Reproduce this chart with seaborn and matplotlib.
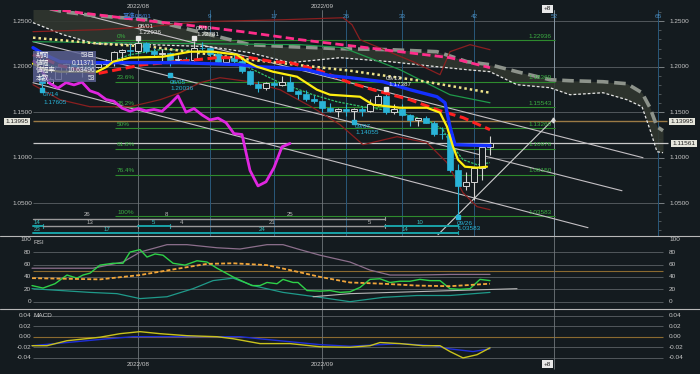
import numpy as np
import matplotlib
matplotlib.use("Agg")
import matplotlib.pyplot as plt
import matplotlib.transforms as mtransforms
from matplotlib.patches import Rectangle
from matplotlib.lines import Line2D
import seaborn as sns

# ---------------- candles (daily) ----------------
dates = ["07/14","07/15","07/18","07/19","07/20","07/21","07/22","07/25","07/26","07/27",
         "07/28","07/29","08/01","08/02","08/03","08/04","08/05","08/08","08/09","08/10",
         "08/11","08/12","08/15","08/16","08/17","08/18","08/19","08/22","08/23","08/24",
         "08/25","08/26","08/29","08/30","08/31","09/01","09/02","09/05","09/06","09/07",
         "09/08","09/09","09/12","09/13","09/14","09/15","09/16","09/19","09/20","09/21",
         "09/22","09/23","09/26","09/27","09/28","09/29","09/30"]
opens = [1.1890,1.1825,1.1868,1.1993,1.2029,1.1972,1.2000,1.1997,1.2035,1.2040,
         1.2165,1.2180,1.2170,1.2262,1.2170,1.2135,1.2150,1.2075,1.2080,1.2075,
         1.2210,1.2205,1.2135,1.2055,1.2100,1.2060,1.1950,1.1815,1.1765,1.1825,
         1.1800,1.1830,1.1735,1.1705,1.1640,1.1620,1.1545,1.1510,1.1540,1.1515,
         1.1530,1.1510,1.1590,1.1680,1.1500,1.1540,1.1470,1.1415,1.1435,1.1385,
         1.1265,1.1255,1.0860,1.0690,1.0735,1.0890,1.1120]
highs = [1.1906,1.1890,1.2033,1.2036,1.2046,1.2028,1.2064,1.2063,1.2080,1.2178,
         1.2190,1.2245,1.22936,1.2275,1.2210,1.2195,1.2165,1.2124,1.2110,1.22781,
         1.2275,1.2210,1.2140,1.2115,1.2147,1.2085,1.1960,1.1840,1.1830,1.1840,
         1.1900,1.1900,1.1745,1.1740,1.1690,1.1625,1.1600,1.1550,1.1590,1.1550,
         1.1560,1.1647,1.1700,1.17387,1.1590,1.1590,1.1480,1.1440,1.1460,1.1400,
         1.1340,1.1275,1.0930,1.0840,1.0900,1.1130,1.1235]
lows = [1.17605,1.1806,1.1860,1.1925,1.1950,1.1890,1.1961,1.1990,1.2010,1.2010,
        1.2064,1.2120,1.2150,1.2150,1.2120,1.2065,1.20036,1.2055,1.2053,1.2060,
        1.2180,1.2110,1.2030,1.2045,1.2040,1.1930,1.1795,1.1717,1.1740,1.1775,
        1.1790,1.1730,1.1650,1.1620,1.1600,1.1498,1.1500,1.1445,1.1455,1.14055,
        1.1460,1.1505,1.1570,1.1475,1.1475,1.1460,1.1351,1.1350,1.1380,1.1235,
        1.1210,1.0840,1.03583,1.0650,1.0540,1.0760,1.1025]
closes = [1.1825,1.1868,1.1993,1.2029,1.1972,1.2000,1.1997,1.2035,1.2040,1.2165,
          1.2180,1.2170,1.2262,1.2170,1.2135,1.2150,1.2075,1.2080,1.2075,1.2210,
          1.2205,1.2135,1.2055,1.2100,1.2060,1.1950,1.1815,1.1765,1.1825,1.1800,
          1.1830,1.1735,1.1705,1.1640,1.1620,1.1545,1.1510,1.1540,1.1515,1.1530,
          1.1510,1.1590,1.1680,1.1500,1.1540,1.1470,1.1415,1.1435,1.1385,1.1265,
          1.1255,1.0860,1.0690,1.0735,1.0890,1.1120,1.11561]
lag_shift = 25

# ---------------- indicator lines (bar index, price) ----------------
tenkan_x = [-1.125,0.375,2.25,6.875,8.125,8.875,11,15.125,18.5,21.375,24.375,25.625,26.875,28.875,
            31.875,34.375,36,39.75,41.375,44.75,48.125,49.75,50.625,51.375,52,52.875,54.375,55.625]
tenkan_y = [1.2033,1.1967,1.1945,1.1945,1.2000,1.2055,1.2099,1.2110,1.2165,1.2165,1.2132,1.2055,1.2000,
            1.1945,1.1890,1.1747,1.1692,1.1670,1.1582,1.1549,1.1549,1.1495,1.1341,1.1121,1.0978,1.0901,
            1.0890,1.0901]
kijun_x = [-1.125,0.375,2.25,7.25,17.25,24.75,26.875,29.75,33.125,36,38.5,42.625,46,49.375,50.375,51,51.625,56]
kijun_y = [1.2209,1.2132,1.2055,1.2044,1.2044,1.2022,1.2000,1.1989,1.1967,1.1901,1.1879,1.1835,1.1747,
           1.1670,1.1604,1.1341,1.1143,1.1132]
ma_red_x = [-1.125,-0.25,2.25,6.875,9.375,12.625,16.875,21.875,26,28.875,31,34.375,38.5,41.375,46,49.75,52.625,56]
ma_red_y = [1.2132,1.2110,1.2011,1.1923,1.1967,1.2022,1.2055,1.2099,1.2099,1.2055,1.2044,1.1967,1.1824,
            1.1747,1.1637,1.1516,1.1440,1.1308]
ma_pink_x = [1,4.75,11,21,26,32.25,38.5,44.75,51,56]
ma_pink_y = [1.2637,1.2593,1.2527,1.2429,1.2374,1.2297,1.2231,1.2165,1.2099,1.1989]
ma_dot_x = [-1.125,7.25,13.5,26,38.5,47.25,56]
ma_dot_y = [1.2319,1.2253,1.2220,1.2077,1.1956,1.1846,1.1714]
cloud_x = [-1.125,2.625,6.625,13.5,21,26,31,37.25,43.5,49.375,53.125,56,59.375,63.5,66,70.125,
           73.125,75,76,76.875,77.625]
span_b = [1.2681,1.2604,1.2560,1.2516,1.2352,1.2242,1.2220,1.2198,1.2187,1.2165,1.2055,1.2022,1.1945,
          1.1857,1.1846,1.1835,1.1813,1.1714,1.1549,1.1341,1.1297]
span_a = [1.2484,1.2352,1.2253,1.2242,1.2220,1.2154,1.2044,1.2099,1.2055,1.2000,1.1967,1.1945,1.1802,
          1.1769,1.1692,1.1714,1.1637,1.1560,1.1308,1.1066,1.1055]
bb_up_x = [-1.125,7.25,13.5,19.75,30.125,37.625,38.75,39.75,46.375,49.75,51,53.5,56]
bb_up_y = [1.2385,1.2407,1.2440,1.2495,1.2516,1.2538,1.2462,1.2297,1.2055,1.1912,1.2165,1.2242,1.2187]
bb_lo_x = [-1.125,2.25,6,11,14.75,17.25,19.75,22.25,26,29.75,33.875,37.25,40.125,44.375,48.125,50.625,
           52.625,54.375,56]
bb_lo_y = [1.1802,1.1637,1.1560,1.1560,1.1637,1.1714,1.1824,1.1879,1.1835,1.1747,1.1549,1.1363,1.1143,
           1.1231,1.1165,1.0945,1.0615,1.0462,1.0429]
ma_gd_x = [-1.125,2.25,7.25,11,14.75,17.25,21.375,25.625,29.75,33.875,36.875,40.125,44.375,48.5,50.125,
           51,52.625,54.375,56]
ma_gd_y = [1.2055,1.1989,1.2011,1.2132,1.2187,1.2187,1.2165,1.2000,1.1824,1.1692,1.1615,1.1560,1.1505,
           1.1396,1.1308,1.1165,1.0978,1.0923,1.0945]
ma_gs_x = [-1.125,19.75,32.25,37.625,44.75,51,56]
ma_gs_y = [1.2275,1.2253,1.2242,1.2209,1.1967,1.1692,1.1604]

# trend lines (start/end bar index and price)
trend_x0 = [-1.125, -1.125, -1.125]
trend_y0 = [1.1824, 1.2275, 1.2714]
trend_x1 = [68.25, 72.5, 75.125]
trend_y1 = [1.0231, 1.0637, 1.1000]
gann_x = [49.5, 63.875]
gann_y = [1.0154, 1.1418]

# fibonacci retracement
fib_labels = ["0%", "23.6%", "38.2%", "50%", "61.8%", "76.4%", "100%"]
fib_prices = [1.22936, 1.18369, 1.15543, 1.13260, 1.10976, 1.08150, 1.03583]
price_ticks = [1.25, 1.20, 1.15, 1.10, 1.05]
price_tick_labels = ["1.2500", "1.2000", "1.1500", "1.1000", "1.0500"]
level_orange = 1.13995
level_last = 1.11561
cycle_numbers = [9, 17, 26, 33, 42, 52, 65]
cycle_origin = 12

# info box
info_l = ["期間", "値幅", "値幅率", "本数"]
info_r = ["53日", "0.11371", "10.63496", "53"]

# ---------------- RSI panel ----------------
rsi_x = [-1.25,0.125,1.625,3.125,4.375,5.125,6,7.25,8.875,10.125,11,12.25,13.125,14.125,15.125,16.375,
         17.875,19.375,20.625,21.875,23.875,26.25,27.25,28.125,29.375,30.125,31.375,32,33.125,34.75,36,
         37.25,38.5,39.75,41,42.25,43.5,44.75,46,47.25,48.5,49.75,51,52.25,53.5,54.75,56]
rsi_y = [26,22,29,43,38,43,46,59,62,62,80,84,72,77,75,62,59,66,64,54,40,26,26,31,29,36,31,31,
         18,17,18,15,16,23,36,37,31,33,33,36,34,34,21,20,21,36,34]
rsi_long_x = [-1.25,3,7.25,12.25,16.375,20.625,23.875,28.125,31,34.75,38.5,42.625,46.875,51,56]
rsi_long_y = [38,37,36,43,52,61,62,59,51,40,31,29,26,25,29]
rsi_hi_x = [-1.25,6.375,10.125,12.25,15.625,18.125,21.875,24.75,28.125,30.125,32.25,34.75,38.5,41,43.5,
            46.875,51,56]
rsi_hi_y = [54,54,64,80,92,92,87,85,92,92,84,75,64,51,43,43,44,44]
rsi_lo_x = [-1.25,6,9.375,12.25,15.625,18.875,21.375,23.875,26.375,30.125,34.75,38.5,42.625,46.875,51,56]
rsi_lo_y = [21,15,13,5,8,21,34,38,26,15,7,0,7,10,10,15]
rsi_gr_x = [33.875, 38.5, 59.375]
rsi_gr_y = [8, 13, 21]
rsi_ticks = [100, 80, 60, 40, 20, 0]

# ---------------- MACD panel ----------------
macd_x = [-1.25,0.625,3.125,7.25,9.75,12.25,14.75,18.125,21.875,23.875,27.25,31,34.75,38.5,41,42.25,
          44.75,47.625,49.75,51,52.625,54.375,56]
macd_y = [-0.017,-0.017,-0.0076,-0.001,0.0057,0.0095,0.0057,0.0019,0.0,-0.0038,-0.013,-0.013,-0.019,
          -0.020,-0.017,-0.011,-0.013,-0.017,-0.017,-0.028,-0.040,-0.034,-0.021]
signal_x = [-1.25,3.125,8.125,11.375,15.625,21.875,24.75,27.25,31,34.75,38.5,44.75,48.875,51,53.875,56]
signal_y = [-0.017,-0.011,-0.004,0.0,0.0,0.0,0.0,-0.004,-0.0095,-0.015,-0.018,-0.013,-0.017,-0.023,
            -0.028,-0.023]
macd_ticks = [0.04, 0.02, 0.00, -0.02, -0.04]
macd_tick_labels = ["0.04", "0.02", "0.00", "-0.02", "-0.04"]
month_labels = ["2022/08", "2022/09"]
month_index = [12, 35]

# ---------------- style ----------------
BG = "#141b1f"
sns.set_theme(style="dark", rc={"axes.facecolor": BG, "figure.facecolor": BG,
                                "savefig.facecolor": BG})
plt.rcParams["font.family"] = ["Liberation Sans", "Noto Sans CJK JP", "DejaVu Sans"]
TXT = "#c8c8c8"
GRID = "#5b6165"
CYAN = "#2ab4d8"
TEAL = "#1aa3a8"
FS = 4.6

W, H = 700, 374
fig = plt.figure(figsize=(7, 3.74), dpi=100)


def fx(x):
    return x / W


def fy(y):
    return 1 - y / H


def ix(xp):
    return (xp - 42) / 8.0


ax = fig.add_axes([0, fy(237), 1, fy(10) - fy(237)])
axr = fig.add_axes([0, fy(309), 1, fy(236) - fy(309)])
axm = fig.add_axes([0, 0, 1, fy(309)])
XL = (ix(0), ix(700))
for a in (ax, axr, axm):
    a.set_xlim(*XL)
    a.set_axis_off()
ax.set_ylim(1.2 - (237 - 66.7) / 910, 1.2 + (66.7 - 10) / 910)
axr.set_ylim((301.7 - 309) / 0.62, (301.7 - 236) / 0.62)
axm.set_ylim((336.7 - 374) / 530, (336.7 - 309) / 530)


def line(a, xs, ys, color, lw=1.0, z=3, **kw):
    sns.lineplot(x=np.asarray(xs, float), y=np.asarray(ys, float), ax=a, sort=False,
                 estimator=None, legend=False, color=color, linewidth=lw, zorder=z, **kw)


def ptext(x, y, s, color=TXT, size=FS, ha="left", va="center", **kw):
    fig.text(fx(x), fy(y), s, color=color, fontsize=size, ha=ha, va=va, **kw)


bl_main = mtransforms.blended_transform_factory(fig.transFigure, ax.transData)
bl_rsi = mtransforms.blended_transform_factory(fig.transFigure, axr.transData)
bl_macd = mtransforms.blended_transform_factory(fig.transFigure, axm.transData)

# ---------------- main panel ----------------
ax.hlines(price_ticks, ix(33), ix(657), color=GRID, lw=0.6, zorder=1)
ax.hlines(price_ticks, ix(657), ix(664), color="#8a8f92", lw=0.6, zorder=1)
minor = [v / 100 for v in range(102, 127) if v % 5 != 0]
ax.hlines(minor, ix(658), ix(661), color="#6a6f72", lw=0.5, zorder=1)
for v, s in zip(price_ticks, price_tick_labels):
    ax.text(fx(32), v, s, transform=bl_main, color=TXT, fontsize=FS, ha="right", va="center")
    ax.text(fx(669), v, s, transform=bl_main, color=TXT, fontsize=FS, ha="left", va="center")

for m in month_index:
    ax.axvline(m, color="#6f777b", lw=0.6, zorder=1)
for n in cycle_numbers:
    c = "#8797a3" if n == 52 else "#29587a"
    ax.axvline(cycle_origin + n, color=c, lw=0.7, zorder=1)
    ptext(42 + 8 * (cycle_origin + n), 17, str(n), color="#4a8fc4", ha="center")

# kumo
ax.fill_between(cloud_x, span_a, span_b, color="#30362f", alpha=0.9, lw=0, zorder=1.2)
line(ax, cloud_x, span_b, "#8d938b", lw=2.6, z=2.2, linestyle=(0, (3.2, 1.6)))
line(ax, cloud_x, span_a, "#e6e6e6", lw=0.9, z=2.2, linestyle=(0, (2.2, 1.6)))

# fibonacci
ax.hlines(fib_prices, ix(115), ix(555), color="#2e8b2e", lw=0.8, zorder=1.5)
for s, v in zip(fib_labels, fib_prices):
    ax.text(fx(117), v + 0.0042, s, transform=bl_main, color="#3cb043", fontsize=FS,
            ha="left", va="center")
    ax.text(fx(528), v + 0.0042, f"{v:.5f}", transform=bl_main, color="#3cb043", fontsize=FS,
            ha="left", va="center")

# horizontal levels
ax.hlines(level_orange, ix(33), ix(667), color="#9b7a45", lw=1.0, zorder=1.6)
ax.hlines(level_last, ix(33), ix(668), color="#c9c9c9", lw=0.9, zorder=1.6)
box = dict(boxstyle="square,pad=0.18", fc="#e6e6dc", ec="none")
ax.text(fx(17), level_orange, f"{level_orange:.5f}", transform=bl_main, color="#202020",
        fontsize=FS, ha="center", va="center", bbox=box, zorder=6)
ax.text(fx(682), level_orange, f"{level_orange:.5f}", transform=bl_main, color="#202020",
        fontsize=FS, ha="center", va="center", bbox=box, zorder=6)
ax.text(fx(684), level_last, f"{level_last:.5f}", transform=bl_main, color="#202020",
        fontsize=FS, ha="center", va="center", bbox=box, zorder=6)

# trend lines
for x0, y0, x1, y1 in zip(trend_x0, trend_y0, trend_x1, trend_y1):
    line(ax, [x0, x1], [y0, y1], "#c4c0c4", lw=0.8, z=1.8)
line(ax, gann_x, gann_y, "#d0d0d0", lw=0.8, z=1.8)
ax.plot(gann_x[1], gann_y[1], marker="d", ms=2.5, color="#d8d8d8", zorder=5)

# bands / moving averages
line(ax, bb_up_x, bb_up_y, "#8a1f1f", lw=0.9, z=2.5)
line(ax, bb_lo_x, bb_lo_y, "#8a1f1f", lw=0.9, z=2.5)
line(ax, ma_gs_x, ma_gs_y, "#1f9a4a", lw=0.9, z=2.5)
line(ax, ma_gd_x, ma_gd_y, "#33c46a", lw=0.9, z=2.6, linestyle=(0, (2, 1)))
line(ax, ma_pink_x, ma_pink_y, "#ff2d8a", lw=2.0, z=2.7, linestyle=(0, (3, 1.5)))
line(ax, ma_dot_x, ma_dot_y, "#efe48a", lw=1.8, z=2.7, linestyle=(0, (1, 1.2)))

# candles
idx = np.arange(len(dates))
o = np.array(opens); h = np.array(highs); l = np.array(lows); c = np.array(closes)
up = c >= o
wick_col = np.where(up, "#d4d4d4", CYAN)
ax.vlines(idx, l, h, colors=wick_col, lw=0.8, zorder=3)
body_lo = np.minimum(o, c)
body_h = np.maximum(np.abs(c - o), 0.0005)
ax.bar(idx[up], body_h[up], bottom=body_lo[up], width=0.7, color=BG, edgecolor="#d4d4d4",
       linewidth=0.7, zorder=3.1)
ax.bar(idx[~up], body_h[~up], bottom=body_lo[~up], width=0.7, color=CYAN, edgecolor=CYAN,
       linewidth=0.5, zorder=3.1)

# ichimoku + lagging span
line(ax, idx[lag_shift - 1:] - lag_shift, c[lag_shift - 1:], "#e026e0", lw=2.0, z=3.5)
line(ax, ma_red_x, ma_red_y, "#ff2020", lw=2.2, z=3.6, linestyle=(0, (3, 1.5)))
line(ax, kijun_x, kijun_y, "#1430ff", lw=2.4, z=3.7)
line(ax, tenkan_x, tenkan_y, "#ffee10", lw=1.6, z=3.8)

# high / low marks
marks = [(0, lows[0], CYAN, -0.0020), (12, highs[12], "#e8e8e8", 0.0025),
         (16, lows[16], CYAN, -0.0090), (19, highs[19], "#e8e8e8", 0.0040),
         (43, highs[43], "#e8e8e8", 0.0020), (39, lows[39], CYAN, -0.0010),
         (52, lows[52], CYAN, -0.0010)]
for i, v, col, off in marks:
    ax.plot(i, v + off, marker="s", ms=2.4, color=col, zorder=5)
ptext(43, 95, dates[0], CYAN); ptext(43, 102, f"{lows[0]:.5f}", CYAN)
ptext(138, 27, dates[12], "#e8e8e8"); ptext(138, 33, f"{highs[12]:.5f}", "#e8e8e8")
ptext(196, 29, dates[19], "#e8e8e8"); ptext(196, 35, f"{highs[19]:.5f}", "#e8e8e8")
ptext(170, 82, dates[16], CYAN); ptext(170, 88, f"{lows[16]:.5f}", CYAN)
ptext(386, 78, dates[43], "#e8e8e8"); ptext(388, 85, f"{highs[43]:.5f}", "#e8e8e8")
ptext(355, 126, dates[39], CYAN); ptext(355, 132, f"{lows[39]:.5f}", CYAN)
ptext(457, 223, dates[52], CYAN); ptext(457, 229, f"{lows[52]:.5f}", CYAN)

# info box
fig.add_artist(Rectangle((fx(33), fy(82)), 63 / W, 31 / H, transform=fig.transFigure,
                         fc="#5d6396", ec="none", alpha=0.82, zorder=2))
for k, (a_, b_) in enumerate(zip(info_l, info_r)):
    ptext(36, 55.5 + 7.6 * k, a_, "#f0f0f0", size=4.8)
    ptext(95, 55.5 + 7.6 * k, b_, "#f0f0f0", size=4.8, ha="right")

# top labels
for m, s in zip(month_index, month_labels):
    ptext(42 + 8 * m, 7, s, TXT, ha="center")
ptext(123, 16, "基準08/01", "#3f7fd8", size=4.6)
for yy in (9, 364):
    ptext(547.5, yy, "+8", "#202020", ha="center",
          bbox=dict(boxstyle="square,pad=0.25", fc="#e8e8e8", ec="none"))

# count rows at the bottom of the main panel
rows = [
    (218.5, [(33, 385, "#9a9a9a")], [("26", 87), ("8", 166), ("25", 290)], 215, "#b8b8b8"),
    (226.0, [(33, 43, TEAL), (43, 138, "#9a9a9a"), (138, 170, TEAL), (170, 385, "#9a9a9a"),
             (385, 458, TEAL)],
     [("14", 37), ("13", 90), ("5", 154), ("4", 182), ("21", 272), ("5", 370), ("10", 420)],
     222.5, None),
    (232.5, [(33, 458, TEAL)], [("23", 37), ("17", 107), ("24", 262), ("14", 405)], 229.5, "#3cc0c0"),
]
for yy, segs, labs, ly, lc in rows:
    for x0, x1, col in segs:
        fig.add_artist(Line2D([fx(x0), fx(x1)], [fy(yy), fy(yy)], transform=fig.transFigure,
                              color=col, lw=1.4 if col == TEAL else 1.0, zorder=2))
        fig.add_artist(Line2D([fx(x1), fx(x1)], [fy(yy - 1.5), fy(yy + 1.5)],
                              transform=fig.transFigure, color=col, lw=0.8, zorder=2))
    for s, xx in labs:
        col = lc
        if col is None:
            col = "#3cc0c0" if xx in (37, 154, 420) else "#b8b8b8"
        ptext(xx, ly, s, col, size=4.4, ha="center")

# separators
for yy in (236, 309):
    fig.add_artist(Line2D([0, 1], [fy(yy), fy(yy)], transform=fig.transFigure,
                          color="#b8b8b8", lw=0.8, zorder=2))

# ---------------- RSI ----------------
axr.hlines([v for v in rsi_ticks if v < 100], ix(33), ix(663), color=GRID, lw=0.6, zorder=1)
axr.hlines(50, ix(33), ix(663), color="#8b6a30", lw=0.8, zorder=1)
for m in month_index + [cycle_origin + 52]:
    axr.axvline(m, color="#6f777b", lw=0.6, zorder=1)
for v in rsi_ticks:
    axr.text(fx(31), v, str(v), transform=bl_rsi, color=TXT, fontsize=FS, ha="right", va="center")
    axr.text(fx(669), v, str(v), transform=bl_rsi, color=TXT, fontsize=FS, ha="left", va="center")
axr.text(fx(34), 96, "RSI", transform=bl_rsi, color=TXT, fontsize=FS, ha="left", va="center")
line(axr, rsi_hi_x, rsi_hi_y, "#8c6f8c", lw=0.9)
line(axr, rsi_lo_x, rsi_lo_y, "#1f9a8a", lw=0.9)
line(axr, rsi_gr_x, rsi_gr_y, "#b8b8b8", lw=0.8)
line(axr, rsi_x, rsi_y, "#2ed148", lw=1.0, z=3.5)
line(axr, rsi_long_x, rsi_long_y, "#f2a63a", lw=1.3, z=3.6, linestyle=(0, (2.2, 1.2)))

# ---------------- MACD ----------------
axm.hlines([v for v in macd_ticks if v != 0], ix(33), ix(663), color=GRID, lw=0.6, zorder=1)
axm.hlines(0, ix(33), ix(663), color="#8b6a30", lw=0.8, zorder=1)
for m in month_index + [cycle_origin + 52]:
    axm.vlines(m, -0.06, 0.06, color="#6f777b", lw=0.6, zorder=1)
for v, s in zip(macd_ticks, macd_tick_labels):
    axm.text(fx(31), v, s, transform=bl_macd, color=TXT, fontsize=FS, ha="right", va="center")
    axm.text(fx(669), v, s, transform=bl_macd, color=TXT, fontsize=FS, ha="left", va="center")
axm.text(fx(34), 0.04, "MACD", transform=bl_macd, color=TXT, fontsize=FS, ha="left", va="center")
line(axm, signal_x, signal_y, "#1f2fd8", lw=1.0)
line(axm, macd_x, macd_y, "#c9c21c", lw=1.0, z=3.2)
for m, s in zip(month_index, month_labels):
    ptext(42 + 8 * m, 365, s, TXT, ha="center")

fig.savefig("out.png", dpi=100, facecolor=BG)
